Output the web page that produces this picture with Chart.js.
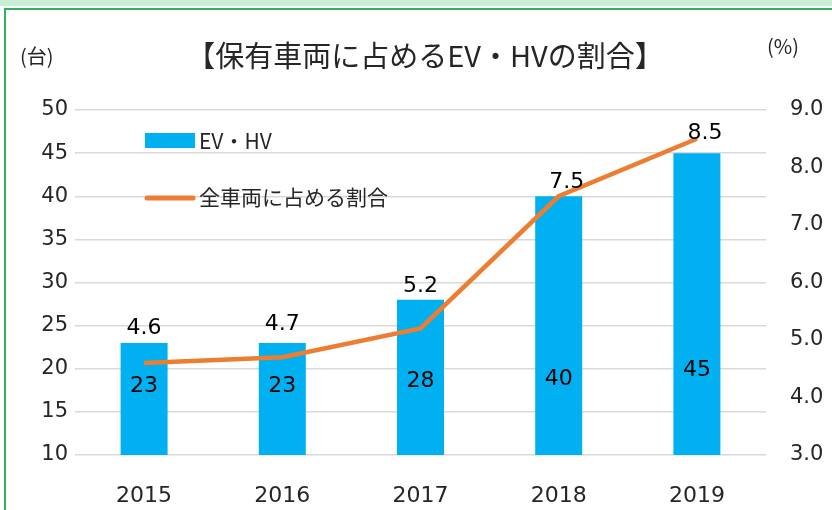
<!DOCTYPE html>
<html lang="ja">
<head>
<meta charset="utf-8">
<script src="https://cdn.jsdelivr.net/npm/chart.js@4.4.1/dist/chart.umd.min.js"></script>
<style>
  html, body { margin: 0; padding: 0; background: #ffffff; }
  #chart { display: block; }
</style>
</head>
<body>
<canvas id="chart" width="832" height="510"></canvas>
<script>
const years = ['2015', '2016', '2017', '2018', '2019'];
const evHvCounts = [23, 23, 28, 40, 45];
const evHvShare = [4.6, 4.7, 5.2, 7.5, 8.5];
const countAxisRange = [10, 50, 5];
const shareAxisRange = [3, 9, 1];

const chartTitle = '【保有車両に占めるEV・HVの割合】';
const countUnit = '(台)';
const shareUnit = '(%)';
const barLegend = 'EV・HV';
const lineLegend = '全車両に占める割合';

const BAR_COLOR = '#00B0F0';
const LINE_COLOR = '#ED7D31';
const TEXT_COLOR = '#262626';
const NUM_FONT = '"DejaVu Sans", Verdana, sans-serif';
const JP_FONT = '"Noto Sans CJK JP", "Noto Sans", sans-serif';

// рамка и заголовки
const framePlugin = {
  id: 'frame',
  beforeDraw(chart) {
    const ctx = chart.ctx;
    ctx.save();
    ctx.fillStyle = '#ffffff';
    ctx.fillRect(0, 0, chart.width, chart.height);
    ctx.fillStyle = '#C6EFD6';
    ctx.fillRect(0, 0, chart.width, 6);
    ctx.strokeStyle = '#2DB45A';
    ctx.lineWidth = 2;
    ctx.strokeRect(5, 9, chart.width + 10, chart.height + 10);
    ctx.restore();
  },
  afterDraw(chart) {
    const ctx = chart.ctx;
    ctx.save();
    ctx.fillStyle = TEXT_COLOR;
    ctx.textBaseline = 'middle';
    ctx.textAlign = 'center';
    ctx.font = '29px ' + JP_FONT;
    ctx.fillText(chartTitle, 425, 56);
    ctx.font = '20px ' + JP_FONT;
    ctx.textAlign = 'left';
    ctx.fillText(countUnit, 20, 56);
    ctx.fillText(shareUnit, 767, 46);
    ctx.restore();
  }
};

// легенда внутри области графика
const innerLegendPlugin = {
  id: 'innerLegend',
  afterDraw(chart) {
    const ctx = chart.ctx;
    ctx.save();
    ctx.fillStyle = BAR_COLOR;
    ctx.fillRect(145, 133, 50, 15);
    ctx.strokeStyle = LINE_COLOR;
    ctx.lineWidth = 5;
    ctx.lineCap = 'round';
    ctx.beginPath();
    ctx.moveTo(147, 198);
    ctx.lineTo(193, 198);
    ctx.stroke();
    ctx.fillStyle = TEXT_COLOR;
    ctx.textAlign = 'left';
    ctx.textBaseline = 'middle';
    ctx.font = '21px ' + JP_FONT;
    ctx.fillText(barLegend, 199, 141);
    ctx.fillText(lineLegend, 199, 197);
    ctx.restore();
  }
};

// подписи значений
const valueLabelsPlugin = {
  id: 'valueLabels',
  afterDatasetsDraw(chart) {
    const ctx = chart.ctx;
    const yCount = chart.scales.yCount;
    ctx.save();
    ctx.fillStyle = '#000000';
    ctx.textAlign = 'center';
    ctx.textBaseline = 'middle';
    ctx.font = '22px ' + NUM_FONT;

    // подписи столбцов стоят примерно на одной высоте
    const barLabelLevels = [18, 18, 18.6, 18.8, 19.8];
    const barMeta = chart.getDatasetMeta(0);
    barMeta.data.forEach((bar, i) => {
      const y = yCount.getPixelForValue(barLabelLevels[i]);
      ctx.fillText(String(evHvCounts[i]), bar.x, y);
    });

    const lineOffsets = [[0, -35], [0, -33], [0, -42], [8, -14], [8, -5]];
    const lineMeta = chart.getDatasetMeta(1);
    lineMeta.data.forEach((point, i) => {
      const [dx, dy] = lineOffsets[i];
      ctx.fillText(evHvShare[i].toFixed(1), point.x + dx, point.y + dy);
    });
    ctx.restore();
  }
};

new Chart(document.getElementById('chart'), {
  data: {
    labels: years,
    datasets: [
      {
        type: 'bar',
        label: barLegend,
        data: evHvCounts,
        backgroundColor: BAR_COLOR,
        yAxisID: 'yCount',
        barPercentage: 0.34,
        categoryPercentage: 1,
        order: 2
      },
      {
        type: 'line',
        label: lineLegend,
        data: evHvShare,
        borderColor: LINE_COLOR,
        borderWidth: 4.5,
        pointRadius: 0,
        tension: 0,
        yAxisID: 'yShare',
        order: 1
      }
    ]
  },
  options: {
    responsive: false,
    animation: false,
    devicePixelRatio: 1,
    layout: {
      padding: { top: 110, left: 0, right: 0, bottom: 0 }
    },
    scales: {
      x: {
        border: { display: false },
        grid: { display: false },
        ticks: {
          color: TEXT_COLOR,
          padding: 20,
          font: { family: NUM_FONT, size: 22 }
        },
        afterFit(scale) { scale.height = 55; }
      },
      yCount: {
        position: 'left',
        min: countAxisRange[0],
        max: countAxisRange[1],
        border: { display: false },
        grid: { color: '#D9D9D9', lineWidth: 1.5, drawTicks: false },
        ticks: {
          stepSize: countAxisRange[2],
          color: TEXT_COLOR,
          padding: 7,
          font: { family: NUM_FONT, size: 21 }
        },
        afterFit(scale) { scale.width = 75; }
      },
      yShare: {
        position: 'right',
        min: shareAxisRange[0],
        max: shareAxisRange[1],
        border: { display: false },
        grid: { display: false, drawTicks: false },
        ticks: {
          stepSize: shareAxisRange[2],
          color: TEXT_COLOR,
          padding: 24,
          font: { family: NUM_FONT, size: 21 },
          callback: (v) => Number(v).toFixed(1)
        },
        afterFit(scale) { scale.width = 66; }
      }
    },
    plugins: {
      legend: { display: false },
      tooltip: { enabled: false }
    }
  },
  plugins: [framePlugin, innerLegendPlugin, valueLabelsPlugin]
});
</script>
</body>
</html>
